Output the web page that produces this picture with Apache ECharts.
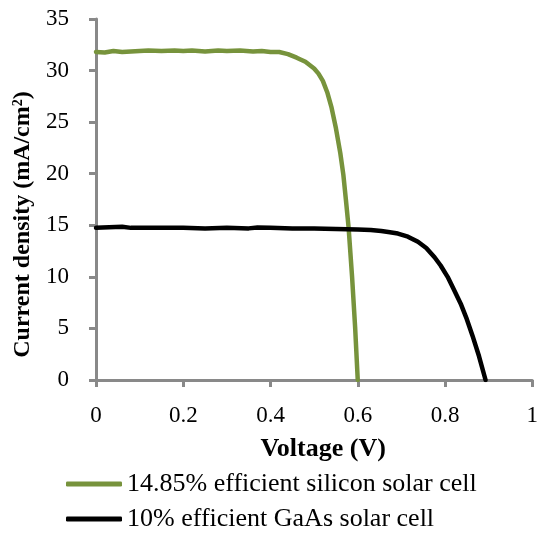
<!DOCTYPE html>
<html><head><meta charset="utf-8">
<script src="https://cdn.jsdelivr.net/npm/echarts@6/dist/echarts.min.js"></script>
<style>html,body{margin:0;padding:0;background:#fff}#c{width:541px;height:534px}</style>
</head><body><div id="c"></div>
<script>
var seriesNames = ['14.85% efficient silicon solar cell', '10% efficient GaAs solar cell'];
var siliconV = [0,0.02,0.04,0.06,0.08,0.10,0.12,0.15,0.18,0.20,0.22,0.25,0.28,0.30,0.33,0.36,0.38,0.40,0.42,0.44,0.46,0.48,0.50,0.51,0.52,0.53,0.54,0.55,0.56,0.567,0.573,0.579,0.587,0.594,0.60];
var siliconJ = [31.8,31.75,31.9,31.8,31.85,31.9,31.95,31.9,31.95,31.9,31.95,31.85,31.95,31.9,31.95,31.85,31.9,31.8,31.8,31.6,31.25,30.85,30.2,29.7,29.0,27.9,26.4,24.4,22.0,19.9,17.4,14.8,10.0,5.1,0];
var gaasV = [0,0.03,0.06,0.08,0.12,0.16,0.20,0.25,0.30,0.35,0.37,0.40,0.45,0.50,0.55,0.60,0.63,0.654,0.67,0.692,0.715,0.738,0.757,0.776,0.79,0.806,0.82,0.836,0.85,0.863,0.878,0.893];
var gaasJ = [14.75,14.8,14.85,14.75,14.75,14.75,14.75,14.7,14.75,14.7,14.78,14.75,14.7,14.7,14.65,14.6,14.55,14.45,14.35,14.2,13.9,13.4,12.8,11.9,11.1,10.0,8.8,7.4,5.9,4.3,2.3,0];
var xTickLabels = ['0','0.2','0.4','0.6','0.8','1'];
var yTickLabels = ['0','5','10','15','20','25','30','35'];

function pairs(xs, ys){ return xs.map(function(x,i){ return [x, ys[i]]; }); }
var serif = '"Liberation Serif","Times New Roman",serif';
var axisGray = '#898989';
var chart = echarts.init(document.getElementById('c'), null, {renderer:'canvas'});
chart.setOption({
  animation:false,
  grid:{left:96, right:6, top:19, bottom:154, containLabel:false},
  xAxis:{type:'value', min:0, max:1, interval:0.2,
    name:'Voltage (V)', nameLocation:'middle', nameGap:56,
    nameTextStyle:{fontFamily:serif, fontWeight:'bold', fontSize:26, color:'#000', padding:[0,0,0,18]},
    axisLine:{show:true, onZero:false, lineStyle:{color:axisGray, width:3}},
    axisTick:{show:true, length:7, lineStyle:{color:axisGray, width:3}},
    axisLabel:{margin:24, fontFamily:serif, fontSize:23, color:'#000',
      formatter:function(v){ return xTickLabels[Math.round(v/0.2)]; }},
    splitLine:{show:false}},
  yAxis:{type:'value', min:0, max:35, interval:5,
    name:'{a|Current density (mA/cm}{s|2}{a|)}', nameLocation:'middle', nameGap:60, nameRotate:90,
    nameTextStyle:{padding:[0,50,0,0], rich:{
      a:{fontFamily:serif, fontWeight:'bold', fontSize:24, color:'#000'},
      s:{fontFamily:serif, fontWeight:'bold', fontSize:14, color:'#000', verticalAlign:'top', padding:[0,0,10,0]}}},
    axisLine:{show:true, lineStyle:{color:axisGray, width:3}},
    axisTick:{show:true, length:7, lineStyle:{color:axisGray, width:3}},
    axisLabel:{margin:27, fontFamily:serif, fontSize:23, color:'#000',
      formatter:function(v){ return yTickLabels[Math.round(v/5)]; }},
    splitLine:{show:false}},
  legend:{orient:'vertical', left:66, top:471, height:90, padding:0, itemWidth:56, itemHeight:5, itemGap:9,
    icon:'roundRect',
    textStyle:{fontFamily:serif, fontSize:26, color:'#000'},
    data:seriesNames},
  series:[
    {name:seriesNames[0], type:'line', symbol:'none', smooth:false, data:pairs(siliconV, siliconJ),
      lineStyle:{color:'#77933C', width:4.5, join:'round', cap:'round'}, itemStyle:{color:'#77933C'}},
    {name:seriesNames[1], type:'line', symbol:'none', smooth:false, data:pairs(gaasV, gaasJ),
      lineStyle:{color:'#000', width:4.5, join:'round', cap:'round'}, itemStyle:{color:'#000'}}
  ]
});
</script></body></html>
